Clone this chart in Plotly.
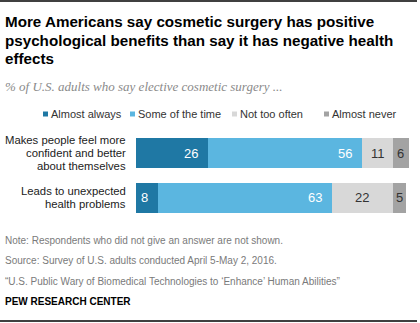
import plotly.graph_objects as go

# Survey categories (top to bottom) and response series
categories = ["Makes people feel more<br>confident and better<br>about themselves",
              "Leads to unexpected<br>health problems"]
series_names = ["Almost always", "Some of the time", "Not too often", "Almost never"]
almost_always = [26, 8]
some_of_the_time = [56, 63]
not_too_often = [11, 22]
almost_never = [6, 5]

series_values = [almost_always, some_of_the_time, not_too_often, almost_never]
colors = ["#1F78A4", "#5BB6E0", "#D8D8D8", "#A3A3A3"]
label_colors = ["white", "white", "#333333", "#333333"]

W, H = 420, 323
L, R, T, B = 136, 8, 131, 103
PW, PH = W - L - R, H - T - B


def pxx(x):
    return (x - L) / PW


def pxy(y):
    return (H - B - y) / PH


FONT = "Liberation Sans"
fig = go.Figure()
ypos = list(range(len(categories)))

for name, vals, col in zip(series_names, series_values, colors):
    fig.add_trace(go.Bar(
        y=ypos, x=vals, name=name, orientation="h",
        marker=dict(color=col, line=dict(width=0)),
        width=0.674, showlegend=False, hoverinfo="skip",
    ))

annotations = []
shapes = []

# value labels: inside-end for blue segments, centred for grey ones
for i in range(len(categories)):
    start = 0
    for k, vals in enumerate(series_values):
        v = vals[i]
        end = start + v
        if k < 2:
            annotations.append(dict(x=end, y=i, xref="x", yref="y", text=str(v),
                                    showarrow=False, xanchor="right", xshift=-8,
                                    font=dict(family=FONT, size=13, color=label_colors[k])))
        else:
            annotations.append(dict(x=(start + end) / 2, y=i, xref="x", yref="y", text=str(v),
                                    showarrow=False, xanchor="center",
                                    font=dict(family=FONT, size=13, color=label_colors[k])))
        start = end

# category labels, one annotation per line for tight line spacing
LINE_GAP = 13
for i, cat in enumerate(categories):
    lines = cat.split("<br>")
    n = len(lines)
    for j, line in enumerate(lines):
        annotations.append(dict(x=pxx(128), y=i, xref="paper", yref="y", text=line,
                                showarrow=False, xanchor="right", yanchor="middle",
                                yshift=-(j - (n - 1) / 2) * LINE_GAP,
                                font=dict(family=FONT, size=11.3, color="#222222")))

# title lines
title_lines = ["More Americans say cosmetic surgery has positive",
               "psychological benefits than say it has negative health",
               "effects"]
for j, line in enumerate(title_lines):
    annotations.append(dict(x=pxx(3), y=pxy(22 + 18 * j), xref="paper", yref="paper",
                            text="<b>" + line + "</b>", showarrow=False,
                            xanchor="left", yanchor="middle",
                            font=dict(family=FONT, size=15.2, color="black")))

annotations.append(dict(x=pxx(3), y=pxy(86), xref="paper", yref="paper",
                        text="<i>% of U.S. adults who say elective cosmetic surgery ...</i>",
                        showarrow=False, xanchor="left", yanchor="middle",
                        font=dict(family="Liberation Serif", size=13, color="#8a8a8a")))

# legend built from squares and text
legend_x = [43, 130, 232, 324]
for name, col, lx in zip(series_names, colors, legend_x):
    shapes.append(dict(type="rect", xref="paper", yref="paper",
                       x0=pxx(lx), x1=pxx(lx + 5), y0=pxy(111.5), y1=pxy(116.5),
                       fillcolor=col, line=dict(width=0)))
    annotations.append(dict(x=pxx(lx + 6), y=pxy(114), xref="paper", yref="paper",
                            text=name, showarrow=False, xanchor="left", yanchor="middle",
                            font=dict(family=FONT, size=11, color="#333333")))

# notes
notes = ["Note: Respondents who did not give an answer are not shown.",
         "Source: Survey of U.S. adults conducted April 5-May 2, 2016.",
         "\u201cU.S. Public Wary of Biomedical Technologies to \u2018Enhance\u2019 Human Abilities\u201d"]
for j, line in enumerate(notes):
    annotations.append(dict(x=pxx(3), y=pxy(240 + 20.5 * j), xref="paper", yref="paper",
                            text=line, showarrow=False, xanchor="left", yanchor="middle",
                            font=dict(family=FONT, size=10, color="#7a7a7a")))
annotations.append(dict(x=pxx(3), y=pxy(301), xref="paper", yref="paper",
                        text="<b>PEW RESEARCH CENTER</b>", showarrow=False,
                        xanchor="left", yanchor="middle",
                        font=dict(family=FONT, size=10, color="black")))

# top and bottom rules
for yy in (1, 321):
    shapes.append(dict(type="line", xref="paper", yref="paper",
                       x0=pxx(0), x1=pxx(417), y0=pxy(yy), y1=pxy(yy),
                       line=dict(color="black", width=1.5)))

fig.update_layout(
    width=W, height=H, barmode="stack",
    margin=dict(l=L, r=R, t=T, b=B, pad=0),
    paper_bgcolor="white", plot_bgcolor="white",
    xaxis=dict(range=[0, 100], visible=False, fixedrange=True),
    yaxis=dict(range=[1.5, -0.5], visible=False, fixedrange=True),
    annotations=annotations, shapes=shapes,
    bargap=0,
)

fig.write_html("out.html")
